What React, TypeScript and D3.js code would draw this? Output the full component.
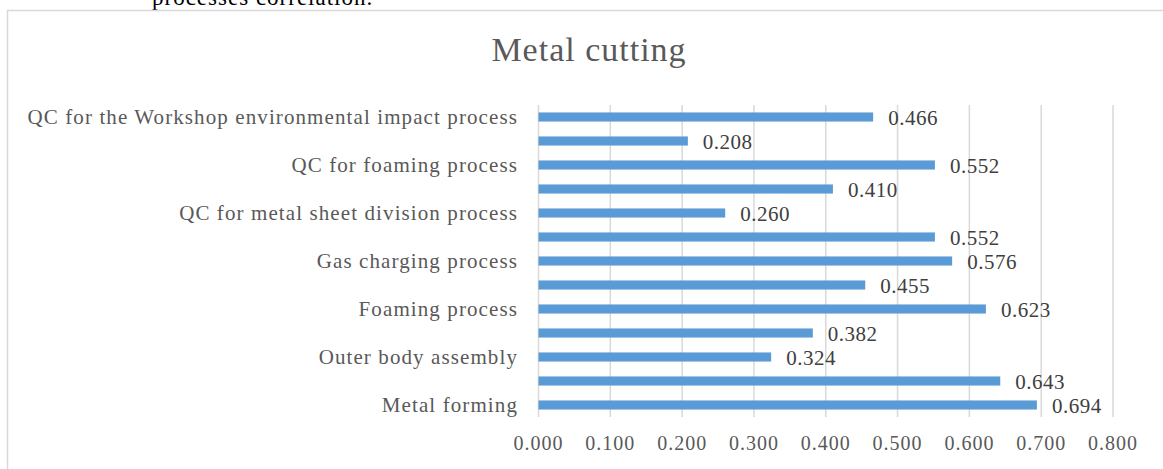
import React from "react";
import * as d3 from "d3";

const categories = [
  "Metal forming",
  "",
  "Outer body assembly",
  "",
  "Foaming process",
  "",
  "Gas charging process",
  "",
  "QC for metal sheet division process",
  "",
  "QC for foaming process",
  "",
  "QC for the Workshop environmental impact process",
];
const values = [0.694, 0.643, 0.324, 0.382, 0.623, 0.455, 0.576, 0.552, 0.26, 0.41, 0.552, 0.208, 0.466];
const xTicks = [0, 0.1, 0.2, 0.3, 0.4, 0.5, 0.6, 0.7, 0.8];
const title = "Metal cutting";

const W = 1163;
const H = 469;
const FONT = "'Liberation Serif', 'Times New Roman', serif";

export default function App() {
  const x = d3.scaleLinear().domain([0, 0.8]).range([538.5, 1113]);
  const idx = categories.map((_, i) => String(i));
  const y = d3
    .scaleBand<string>()
    .domain(idx.slice().reverse())
    .range([105, 417])
    .paddingInner(0.62)
    .paddingOuter(0.31);
  const fmt = d3.format(".3f");
  const [y0, y1] = y.range();

  return (
    <svg
      width={W}
      height={H}
      style={{ position: "absolute", left: 0, top: 0, background: "#fff" }}
      fontFamily={FONT}
    >
      <text x={152} y={5} fontSize={23} letterSpacing={1} fill="#000">processes correlation.</text>
      <path d={`M7.5,${H + 5} V10.5 H${W + 5}`} fill="none" stroke="#d9d9d9" strokeWidth={1.5} />
      <text x={589} y={61} fontSize={34} letterSpacing={1} fill="#595959" textAnchor="middle">
        {title}
      </text>
      {xTicks.map((t) => (
        <g key={t}>
          <line x1={x(t)} x2={x(t)} y1={y0} y2={y1} stroke="#d9d9d9" strokeWidth={1.5} />
          <text x={x(t)} y={450} fontSize={20} letterSpacing={1} fill="#595959" textAnchor="middle">
            {fmt(t)}
          </text>
        </g>
      ))}
      {values.map((v, i) => {
        const yy = y(String(i))!;
        const bw = y.bandwidth();
        return (
          <g key={i}>
            <rect x={x(0)} y={yy} width={x(v) - x(0)} height={bw} fill="#5b9bd5" />
            <text x={x(v) + 15} y={yy + bw / 2 + 8} fontSize={21} letterSpacing={0.5} fill="#404040">
              {fmt(v)}
            </text>
            {categories[i] && (
              <text x={518} y={yy + bw / 2 + 7} fontSize={21} letterSpacing={1.1} fill="#595959" textAnchor="end">
                {categories[i]}
              </text>
            )}
          </g>
        );
      })}
    </svg>
  );
}
